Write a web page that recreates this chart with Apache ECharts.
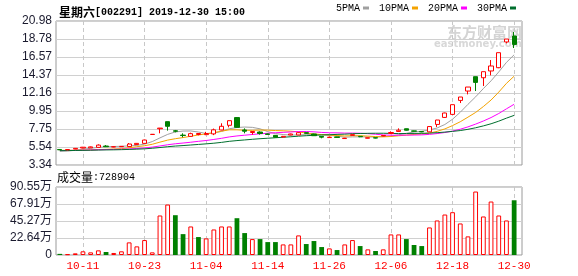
<!DOCTYPE html>
<html><head><meta charset="utf-8">
<script src="https://cdn.jsdelivr.net/npm/echarts@6/dist/echarts.min.js"></script>
<style>html,body{margin:0;padding:0;background:#fff}#c{width:578px;height:276px}</style>
</head><body><div id="c"></div>
<script>
const dates = ['10-08','10-09','10-10','10-11','10-14','10-15','10-16','10-17','10-18','10-21','10-22','10-23','10-24','10-25','10-28','10-29','10-30','10-31',
 '11-01','11-04','11-05','11-06','11-07','11-08','11-11','11-12','11-13','11-14','11-15','11-18','11-19','11-20','11-21','11-22','11-25','11-26','11-27','11-28','11-29',
 '12-02','12-03','12-04','12-05','12-06','12-09','12-10','12-11','12-12','12-13','12-16','12-17','12-18','12-19','12-20','12-23','12-24','12-25','12-26','12-27','12-30'];
// [open, close, low, high]
const ohlc = [
 [5.24,5.20,5.18,5.26],[5.20,5.23,5.18,5.25],[5.30,5.38,5.28,5.42],[5.42,5.52,5.38,5.55],[5.44,5.56,5.42,5.60],
 [5.50,5.78,5.48,5.87],[5.66,5.58,5.54,5.78],[5.55,5.58,5.52,5.62],[5.58,5.62,5.55,5.66],[5.60,5.91,5.56,6.03],
 [5.84,5.99,5.80,6.02],[5.99,6.40,5.95,6.45],[7.08,7.10,7.08,7.10],[7.78,7.86,7.22,7.88],[8.65,8.08,7.55,8.65],
 [7.53,7.48,7.34,7.63],[7.00,6.95,6.73,7.22],[6.85,7.18,6.80,7.30],[7.08,7.20,6.97,7.24],[7.06,7.20,7.00,7.40],
 [7.15,7.65,7.00,7.80],[7.63,8.08,7.60,8.45],[8.20,8.77,7.95,8.80],[9.15,7.95,7.90,9.20],[7.63,7.48,7.22,7.83],
 [7.32,7.45,7.06,7.50],[7.38,7.20,7.06,7.46],[7.15,7.08,7.02,7.20],[6.97,6.75,6.70,7.00],[6.77,6.85,6.72,6.90],
 [7.02,7.14,6.98,7.18],[7.02,7.30,7.00,7.35],[7.30,7.22,7.15,7.32],[7.14,6.93,6.90,7.18],[6.85,6.75,6.61,6.88],
 [6.70,6.75,6.68,6.80],[6.78,6.72,6.68,6.80],[6.58,6.62,6.55,6.66],[6.97,7.06,6.95,7.08],[6.85,6.80,6.75,6.88],
 [6.62,6.68,6.60,6.70],[6.68,6.64,6.60,6.70],[6.90,6.96,6.86,7.00],[7.20,7.32,7.12,7.46],[7.45,7.60,7.40,7.83],
 [7.78,7.60,7.55,7.80],[7.52,7.48,7.45,7.55],[7.44,7.40,7.35,7.48],[7.40,8.05,7.38,8.08],[8.31,8.85,8.00,8.87],
 [9.17,9.71,9.10,9.75],[9.54,10.73,9.50,10.73],[11.25,11.67,10.93,11.67],[12.40,12.89,11.99,12.89],[14.16,13.46,12.40,14.16],
 [14.03,14.77,13.02,14.77],[14.86,15.47,14.32,16.20],[15.26,17.10,15.20,17.10],[18.41,18.77,18.24,18.77],[19.14,18.11,17.67,19.63]
];
const volumes = [15000,10000,22000,49000,35000,62000,40000,27000,49000,168000,
 115000,199000,35000,526000,672000,530000,278000,380000,239000,221000,
 340000,380000,380000,490000,292000,212000,212000,172000,172000,141000,
 141000,261000,146000,186000,106000,88000,66000,141000,199000,119000,
 75000,53000,75000,274000,274000,212000,133000,119000,367000,460000,
 539000,570000,420000,248000,845000,513000,712000,526000,460000,728904];
const volumeUp = [0,1,1,1,1,1,0,1,1,1, 1,1,1,1,1,0,0,1,0,1, 1,1,1,0,0,1,0,0,0,1,
 1,1,0,0,0,1,0,1,1,0, 1,0,1,1,1,0,0,0,1,1, 1,1,1,1,1,1,1,1,1,0];
const ma5 = [5.02,5.05,5.14,5.28,5.39,5.50,5.57,5.61,5.63,5.69, 5.74,5.90,6.21,6.66,7.09,7.39,7.50,7.51,7.38,7.20,
 7.24,7.46,7.78,7.93,7.99,7.95,7.77,7.43,7.19,7.07, 7.00,7.02,7.05,7.09,7.07,6.99,6.87,6.75,6.78,6.79,
 6.78,6.76,6.83,6.88,7.04,7.22,7.39,7.48,7.63,7.88, 8.30,8.95,9.80,10.77,11.69,12.70,13.65,14.74,15.91,16.84];
const ma10 = [5.14,5.14,5.15,5.17,5.19,5.23,5.26,5.30,5.34,5.45, 5.58,5.70,5.88,6.14,6.39,6.56,6.70,6.86,7.02,7.15,
 7.31,7.48,7.65,7.65,7.59,7.59,7.62,7.61,7.56,7.53, 7.48,7.40,7.24,7.14,7.07,7.00,6.95,6.90,6.93,6.93,
 6.88,6.82,6.79,6.83,6.92,7.00,7.08,7.15,7.25,7.46, 7.76,8.17,8.64,9.20,9.78,10.50,11.30,12.27,13.34,14.22];
const ma20 = [5.11,5.12,5.13,5.15,5.18,5.21,5.23,5.25,5.27,5.31, 5.36,5.43,5.53,5.67,5.82,5.94,6.03,6.13,6.24,6.34,
 6.47,6.61,6.78,6.90,6.99,7.08,7.16,7.23,7.29,7.34, 7.39,7.44,7.44,7.40,7.33,7.29,7.28,7.25,7.25,7.23,
 7.18,7.11,7.02,6.99,6.99,7.00,7.01,7.03,7.09,7.19, 7.32,7.49,7.72,8.01,8.35,8.73,9.15,9.65,10.22,10.78];
const ma30 = [5.10,5.11,5.12,5.13,5.15,5.17,5.19,5.20,5.22,5.25, 5.28,5.32,5.39,5.48,5.58,5.66,5.72,5.79,5.86,5.93,
 6.01,6.11,6.24,6.33,6.41,6.49,6.56,6.62,6.68,6.74, 6.80,6.87,6.93,6.98,7.02,7.05,7.09,7.12,7.17,7.20,
 7.22,7.23,7.23,7.21,7.19,7.20,7.21,7.22,7.25,7.30, 7.37,7.46,7.56,7.71,7.90,8.13,8.39,8.71,9.08,9.42];
const priceTicks = ['3.34','5.54','7.75','9.95','12.16','14.37','16.57','18.78','20.98'];
const volumeTicks = ['0','22.64万','45.27万','67.91万','90.55万'];
const volumeMax = 905500;
const dateTicks = ['10-11','10-23','11-04','11-14','11-26','12-06','12-18','12-30'];
const maNames = ['5PMA','10PMA','20PMA','30PMA'];

const RED = '#ff0000', GREEN = '#008000', GRIDC = '#d0d0d0', FRAME = '#9a9a9a', DASH = '#c8c8c8';
const maColors = ['#a0a0a0', '#f4a300', '#ff00ff', '#006f2e'];
const maData = [ma5, ma10, ma20, ma30];
const isDateTick = (i, v) => dateTicks.indexOf(v) >= 0;
const dashSplit = {show: true, alignWithLabel: true, interval: isDateTick, lineStyle: {type: [4, 3], color: DASH, width: 1}};

const chart = echarts.init(document.getElementById('c'));
chart.setOption({
  animation: false,
  backgroundColor: '#fff',
  title: {
    left: 54, top: 1,
    text: '{c|星期六}{a|[002291] 2019-12-30 15:00}',
    textStyle: {rich: {
      c: {fontFamily: 'Noto Sans CJK SC', fontSize: 12, color: '#000'},
      a: {fontFamily: 'Liberation Mono', fontSize: 10, color: '#000'}
    }}
  },
  legend: {
    data: maNames, left: 336, top: 3, align: 'right', icon: 'rect',
    itemWidth: 6, itemHeight: 3, itemGap: 10, padding: 0,
    textStyle: {fontFamily: 'Liberation Mono', fontSize: 10, color: '#000', padding: [0, -2, 0, 0]}
  },
  graphic: [
    {type: 'text', left: 57, top: 171, style: {
      text: '{c|成交量}{a|:' + volumes[volumes.length - 1] + '}',
      rich: {c: {fontFamily: 'Noto Sans CJK SC', fontSize: 12, fill: '#000'},
             a: {fontFamily: 'Liberation Mono', fontSize: 10, fill: '#000'}}
    }},
    {type: 'text', right: 56, top: 25, z: 0, style: {text: '东方财富网', font: 'bold 15px "Noto Sans CJK SC"', fill: '#d4d4d4'}},
    {type: 'text', right: 56, top: 39, z: 0, style: {text: 'eastmoney.com', font: 'bold 10px "DejaVu Sans"', fill: '#d8d8d8'}}
  ],
  grid: [
    {left: 56, top: 21, width: 466, height: 144, show: true, borderColor: FRAME, borderWidth: 1, backgroundColor: 'transparent'},
    {left: 56, top: 21, width: 462, height: 144},
    {left: 56, top: 187, width: 466, height: 68, show: true, borderColor: FRAME, borderWidth: 1, backgroundColor: 'transparent'},
    {left: 56, top: 187, width: 462, height: 68}
  ],
  xAxis: [
    {type: 'value', gridIndex: 0, show: false, splitLine: {show: false}},
    {type: 'category', gridIndex: 1, data: dates, boundaryGap: true,
     axisLine: {show: false}, axisTick: {show: false}, axisLabel: {show: false}, splitLine: dashSplit},
    {type: 'value', gridIndex: 2, show: false, splitLine: {show: false}},
    {type: 'category', gridIndex: 3, data: dates, boundaryGap: true,
     axisLine: {show: false}, axisTick: {show: false},
     axisLabel: {interval: isDateTick, color: RED, fontFamily: 'Liberation Mono', fontSize: 11, margin: 6},
     splitLine: dashSplit}
  ],
  yAxis: [
    {type: 'category', gridIndex: 0, data: priceTicks, boundaryGap: false,
     axisLine: {show: false}, axisTick: {show: false},
     axisLabel: {interval: 0, color: '#1a1a2e', fontFamily: 'Liberation Sans', fontSize: 12, margin: 4},
     splitLine: {show: true, interval: 0, lineStyle: {color: GRIDC}}},
    {type: 'value', gridIndex: 1, min: parseFloat(priceTicks[0]), max: parseFloat(priceTicks[priceTicks.length - 1]),
     show: false, splitLine: {show: false}},
    {type: 'value', gridIndex: 2, min: 0, max: volumeMax, interval: volumeMax / (volumeTicks.length - 1),
     axisLine: {show: false}, axisTick: {show: false},
     axisLabel: {formatter: (v, i) => volumeTicks[i], color: '#1a1a2e', fontFamily: 'Liberation Sans, Noto Sans CJK SC', fontSize: 12, margin: 4},
     splitLine: {show: true, lineStyle: {color: GRIDC}}},
    {type: 'value', gridIndex: 3, min: 0, max: volumeMax, show: false, splitLine: {show: false}}
  ],
  series: [
    ...maNames.map((n, k) => ({
      name: n, type: 'line', xAxisIndex: 1, yAxisIndex: 1, data: maData[k],
      symbol: 'none', z: 2, lineStyle: {width: 1, color: maColors[k]}, itemStyle: {color: maColors[k]}
    })),
    {type: 'candlestick', xAxisIndex: 1, yAxisIndex: 1, data: ohlc, barWidth: '62%', z: 3,
     itemStyle: {color: '#ffffff', color0: GREEN, borderColor: RED, borderColor0: GREEN, borderWidth: 1}},
    {type: 'bar', xAxisIndex: 3, yAxisIndex: 3, barWidth: '62%',
     data: volumes.map((v, i) => ({value: v, itemStyle: volumeUp[i]
       ? {color: '#ffffff', borderColor: RED, borderWidth: 1}
       : {color: GREEN, borderColor: GREEN, borderWidth: 0}}))}
  ]
});
</script>
</body></html>
